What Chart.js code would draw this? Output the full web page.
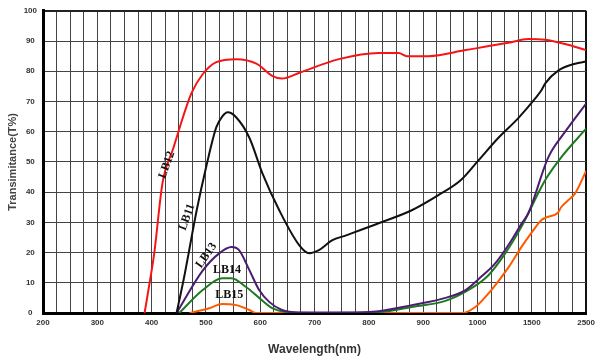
<!DOCTYPE html>
<html>
<head>
<meta charset="utf-8">
<script src="https://cdn.jsdelivr.net/npm/chart.js@4/dist/chart.umd.min.js"></script>
<style>
  html, body { margin: 0; padding: 0; background: #fff; }
  #wrap { width: 600px; height: 363px; }
</style>
</head>
<body>
<div id="wrap"><canvas id="grafico"></canvas></div>
<script>
// tick labels of the wavelength axis (evenly spaced, not to scale)
const tickNm = [200, 300, 400, 500, 600, 700, 800, 900, 1000, 1500, 2500];
const yTicks = [0, 10, 20, 30, 40, 50, 60, 70, 80, 90, 100];

// LB12 (red)
const lb12Nm = [387, 400, 405, 420, 439, 473, 494, 519, 556, 593, 622, 640, 672, 745, 818, 855, 870, 910, 978, 1284, 1468, 1748, 2115, 2500];
const lb12T  = [0, 14, 20, 43, 54, 72.6, 79, 83, 84, 82.5, 78.5, 77.6, 79.5, 84, 86, 86, 85, 85, 87, 89.4, 90.7, 90.4, 89, 87];

// LB11 (black)
const lb11Nm = [446, 460, 483, 500, 519, 530, 540, 556, 580, 604, 635, 672, 690, 708, 732, 758, 818, 879, 928, 969, 1009, 1193, 1376, 1564, 1674, 1748, 1986, 2298, 2500];
const lb11T  = [0, 12, 34, 48, 61.4, 65, 66.4, 64.7, 58, 46.2, 34, 22.4, 19.8, 20.8, 24, 25.7, 29.7, 34, 39, 43.9, 50.5, 58, 64.5, 71, 73.6, 76, 80.2, 82.5, 83.2];

// LB13 (purple)
const lb13Nm = [446, 494, 525, 547, 561, 580, 598, 617, 640, 670, 760, 818, 879, 941, 978, 1009, 1165, 1312, 1404, 1468, 1803, 2115, 2500];
const lb13T  = [0, 14, 19.8, 21.8, 20.8, 14.2, 7.6, 3.6, 1, 0.2, 0.2, 0.6, 2.6, 5, 7.6, 11.2, 16.5, 24, 29.5, 33, 51.5, 60, 69.3];

// LB14 (green)
const lb14Nm = [451, 494, 530, 547, 574, 598, 622, 650, 700, 818, 879, 941, 989, 1101, 1257, 1404, 1748, 2041, 2500];
const lb14T  = [0, 7.6, 11.5, 11.5, 8.6, 5, 1.6, 0.3, 0, 0.3, 2, 4, 8.2, 12.5, 19.8, 28.5, 44, 51.5, 61];

// LB15 (orange)
const lb15Nm = [470, 506, 530, 556, 580, 593, 971, 996, 1128, 1284, 1404, 1495, 1674, 1748, 1986, 2041, 2170, 2298, 2500];
const lb15T  = [0, 1.6, 3, 2.6, 1, 0, 0, 2, 7.6, 15, 21.8, 26.4, 30.7, 31.5, 33.3, 35, 37.3, 39.6, 47];

// wavelength -> position on the evenly spaced axis
function nmToPos(nm) {
    for (let i = 0; i < tickNm.length - 1; i++) {
        if (nm <= tickNm[i + 1]) {
            return i + (nm - tickNm[i]) / (tickNm[i + 1] - tickNm[i]);
        }
    }
    return tickNm.length - 1;
}

function pts(nms, ts) {
    return nms.map((nm, i) => ({ x: nmToPos(nm), y: ts[i] }));
}

function serie(label, nms, ts, color) {
    return {
        label: label,
        data: pts(nms, ts),
        borderColor: color,
        borderWidth: 2,
        pointRadius: 0,
        fill: false,
        cubicInterpolationMode: 'monotone'
    };
}

// curve names written on the plot
const rotulos = {
    id: 'rotulos',
    afterDatasetsDraw(chart) {
        const c = chart.ctx;
        const sx = chart.scales.x, sy = chart.scales.y;
        const itens = [
            ['LB12', 428, 49, -70],
            ['LB11', 465, 31.7, -70],
            ['LB13', 501, 19, -55],
            ['LB14', 539, 14.2, 0],
            ['LB15', 543, 6, 0]
        ];
        c.save();
        c.font = 'bold 12px "Liberation Serif", serif';
        c.fillStyle = '#111';
        c.textAlign = 'center';
        c.textBaseline = 'middle';
        itens.forEach(([txt, nm, t, ang]) => {
            c.save();
            c.translate(sx.getPixelForValue(nmToPos(nm)), sy.getPixelForValue(t));
            c.rotate(ang * Math.PI / 180);
            c.fillText(txt, 0, 0);
            c.restore();
        });
        c.restore();
    }
};

const ctx = document.getElementById('grafico');

new Chart(ctx, {
    type: 'line',

    data: {
        datasets: [
            serie('LB12', lb12Nm, lb12T, '#f81414'),
            serie('LB11', lb11Nm, lb11T, '#111111'),
            serie('LB13', lb13Nm, lb13T, '#4a1c72'),
            serie('LB14', lb14Nm, lb14T, '#1e7a1e'),
            serie('LB15', lb15Nm, lb15T, '#ff5a00')
        ]
    },

    options: {
        responsive: true,
        maintainAspectRatio: false,
        animation: false,

        layout: {
            padding: { top: 10, right: 12, left: 0, bottom: 0 }
        },

        plugins: {
            legend: { display: false },
            tooltip: { enabled: false }
        },

        scales: {
            x: {
                type: 'linear',
                min: 0,
                max: tickNm.length - 1,
                afterFit: s => { s.height = 50; },
                afterBuildTicks: s => {
                    s.ticks = [];
                    for (let v = 0; v <= tickNm.length - 1 + 1e-9; v += 0.25) s.ticks.push({ value: v });
                },
                ticks: {
                    autoSkip: false,
                    maxRotation: 0,
                    padding: 5,
                    color: '#333',
                    font: { family: '"Liberation Sans", Arial', size: 8, weight: 'bold' },
                    callback: v => Number.isInteger(v) ? String(tickNm[v]) : ''
                },
                grid: {
                    drawTicks: false,
                    color: c => c.tick && c.tick.value === tickNm.length - 1 ? '#111' : '#444',
                    lineWidth: c => c.tick && c.tick.value === tickNm.length - 1 ? 2 : 1
                },
                border: { color: '#000', width: 3 },
                title: {
                    display: true,
                    text: 'Wavelength(nm)',
                    color: '#333',
                    font: { family: '"Liberation Sans", Arial', size: 12, weight: 'bold' },
                    padding: { top: 0, bottom: 6 }
                }
            },

            y: {
                min: 0,
                max: 100,
                afterFit: s => { s.width = 43; },
                afterBuildTicks: s => { s.ticks = yTicks.map(v => ({ value: v })); },
                ticks: {
                    crossAlign: 'center',
                    padding: 6,
                    color: '#333',
                    font: { family: '"Liberation Sans", Arial', size: 8, weight: 'bold' }
                },
                grid: {
                    drawTicks: false,
                    color: c => c.tick && c.tick.value === 100 ? '#222' : '#444',
                    lineWidth: c => c.tick && c.tick.value === 100 ? 2 : 1
                },
                border: { color: '#000', width: 3 },
                title: {
                    display: true,
                    text: 'Transimitance(T%)',
                    color: '#444',
                    font: { family: '"Liberation Sans", Arial', size: 11, weight: 'bold' },
                    padding: { top: 6, bottom: 0 }
                }
            }
        }
    },

    plugins: [rotulos]
});
</script>
</body>
</html>
